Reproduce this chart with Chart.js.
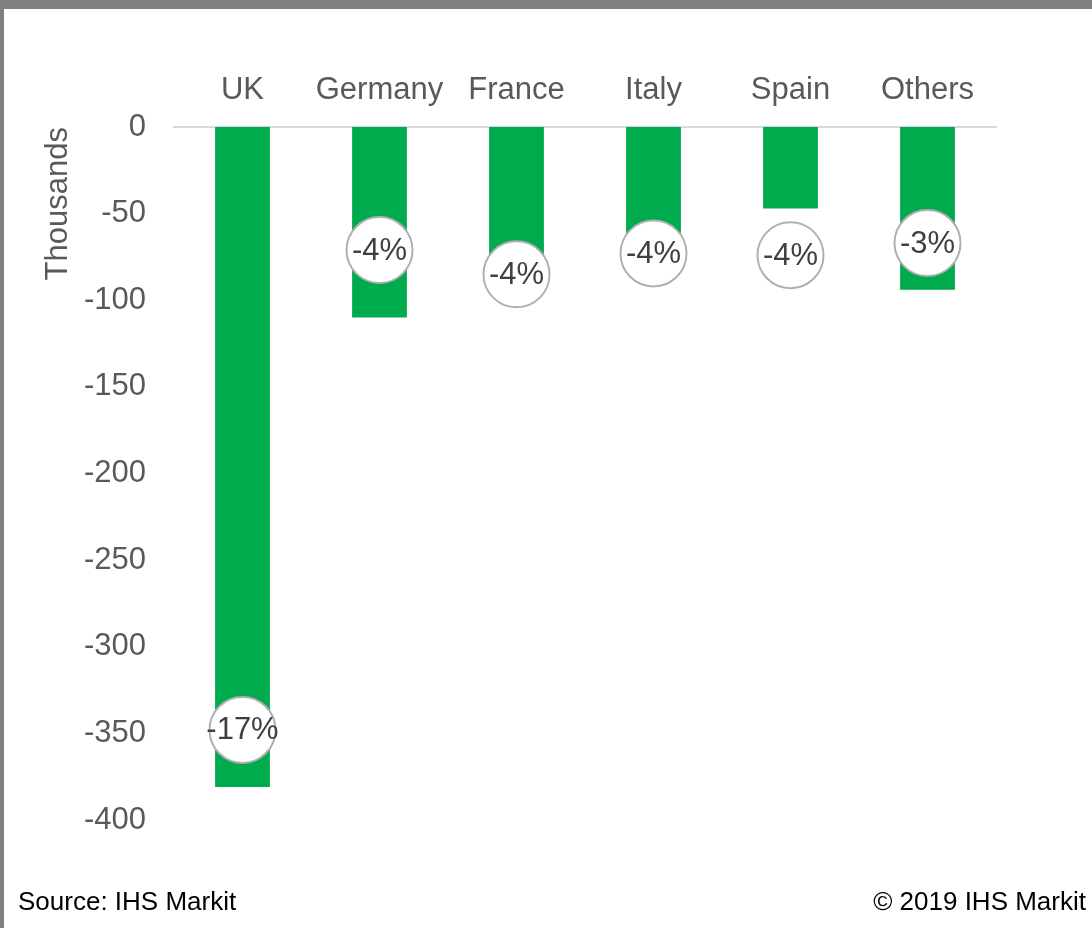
<!DOCTYPE html>
<html>
<head>
<meta charset="utf-8">
<script src="https://cdn.jsdelivr.net/npm/chart.js@4"></script>
<style>
    html, body { margin: 0; padding: 0; background: #fff; }
    #wrap { position: relative; width: 1092px; height: 928px; overflow: hidden; font-family: "Liberation Sans", Arial, sans-serif; }
    #chart { position: absolute; left: 0; top: 0; }
    .edge { position: absolute; background: #808080; }
    .note { position: absolute; font-size: 26px; color: #000; top: 886px; }
</style>
</head>
<body>
<div id="wrap">
    <canvas id="chart" width="1092" height="928"></canvas>
    <div class="edge" style="left:0;top:0;width:1092px;height:9px"></div>
    <div class="edge" style="left:0;top:0;width:4px;height:928px"></div>
    <div class="note" style="left:18px">Source: IHS Markit</div>
    <div class="note" style="right:6px">© 2019 IHS Markit</div>
</div>
<script>
// Job changes by country, thousands
const countries = ['UK', 'Germany', 'France', 'Italy', 'Spain', 'Others'];
const jobChange = [-381, -110, -80, -63, -47, -94];
// percentage change shown in the round badges
const pctChange = [-17, -4, -4, -4, -4, -3];
// where each badge sits on the value axis
const badgeAt = [-348, -71, -85, -73, -74, -67];
const yTicks = [0, -50, -100, -150, -200, -250, -300, -350, -400];

const FONT = '"Liberation Sans", Arial, sans-serif';
const GREY_TEXT = '#595959';

// Draw the circled percentage labels
const badges = {
    id: 'badges',
    afterDatasetsDraw(chart) {
        const ctx = chart.ctx;
        const x = chart.scales.x;
        const y = chart.scales.y;
        ctx.save();
        pctChange.forEach((p, i) => {
            const cx = x.getPixelForValue(i);
            const cy = y.getPixelForValue(badgeAt[i]);
            ctx.beginPath();
            ctx.arc(cx, cy, 33, 0, Math.PI * 2);
            ctx.fillStyle = '#fff';
            ctx.fill();
            ctx.lineWidth = 2;
            ctx.strokeStyle = '#b0b0b0';
            ctx.stroke();
            ctx.fillStyle = '#404040';
            ctx.font = '31px ' + FONT;
            ctx.textAlign = 'center';
            ctx.textBaseline = 'middle';
            ctx.fillText(p + '%', cx, cy + 1);
        });
        ctx.restore();
    }
};

new Chart(document.getElementById('chart'), {
    type: 'bar',
    data: {
        labels: countries,
        datasets: [{
            data: jobChange,
            backgroundColor: '#00AB4E',
            barPercentage: 0.4,
            categoryPercentage: 1
        }]
    },
    options: {
        responsive: false,
        animation: false,
        layout: { padding: { left: 0, right: 96, top: 0, bottom: 108 } },
        plugins: {
            legend: { display: false },
            tooltip: { enabled: false }
        },
        scales: {
            x: {
                position: 'top',
                grid: { display: false, drawTicks: false },
                border: { display: true, color: '#d9d9d9', width: 2 },
                ticks: { color: GREY_TEXT, font: { family: FONT, size: 31 }, padding: 18 },
                afterFit(scale) { scale.height = 127; }
            },
            y: {
                min: -400,
                max: 0,
                grid: { display: false, drawTicks: false },
                border: { display: false },
                afterBuildTicks(scale) { scale.ticks = yTicks.map(v => ({ value: v })); },
                ticks: { color: GREY_TEXT, font: { family: FONT, size: 31 }, padding: 28 },
                title: {
                    display: true,
                    text: 'Thousands',
                    align: 'end',
                    color: GREY_TEXT,
                    font: { family: FONT, size: 31 },
                    padding: { top: 40, bottom: 0 }
                },
                afterFit(scale) { scale.width = 174; }
            }
        }
    },
    plugins: [badges]
});
</script>
</body>
</html>
